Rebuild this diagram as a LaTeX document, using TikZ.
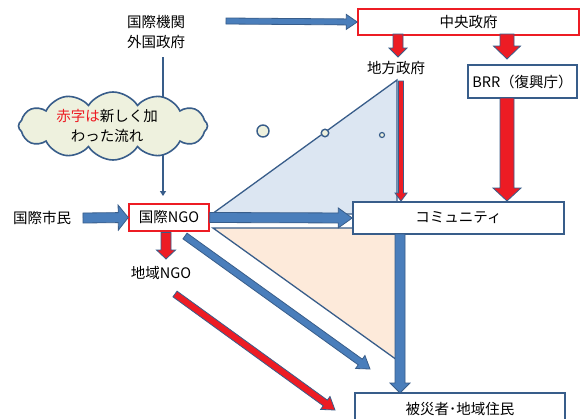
\documentclass[tikz,border=0pt]{standalone}
\usepackage{fontspec}
\setmainfont{Noto Sans CJK JP}
\usetikzlibrary{calc,shapes.symbols,arrows.meta}
\definecolor{dblue}{RGB}{56,93,138}
\definecolor{mblue}{RGB}{74,126,187}
\definecolor{ared}{RGB}{237,28,36}
\definecolor{tribl}{RGB}{220,230,242}
\definecolor{tripe}{RGB}{253,234,218}
\definecolor{cloudf}{RGB}{238,241,222}
\newcommand{\blockarr}[6]{%
  \coordinate (bA) at #2;
  \coordinate (bB) at #3;
  \coordinate (bH) at ($(bB)!#6!(bA)$);
  \filldraw[#1] ($(bA)!#4!90:(bB)$) -- ($(bH)!#4!-90:(bA)$) -- ($(bH)!#5!-90:(bA)$) -- (bB)
     -- ($(bH)!#5!90:(bA)$) -- ($(bH)!#4!90:(bA)$) -- ($(bA)!#4!-90:(bB)$) -- cycle;
}
\begin{document}
\begin{tikzpicture}[x=1pt,y=-1pt,
  every node/.style={font=\fontsize{14.5}{20}\selectfont, inner sep=0pt},
  redbox/.style={draw=ared, line width=1.5pt, fill=white},
  bluebox/.style={draw=dblue, line width=1.5pt, fill=white},
  bluearr/.style={fill=mblue, draw=dblue, line width=0.8pt, line join=miter},
  redarr/.style={fill=ared, draw=dblue, line width=0.8pt, line join=miter},
  triline/.style={draw=dblue, line width=1.3pt},
  thought/.style={circle, draw=dblue, fill=cloudf, line width=1.4pt, inner sep=0pt}]
\useasboundingbox (0,0) rectangle (581,418);
\clip (0,0) rectangle (581,418);
\fill[white] (0,0) rectangle (581,418);

% triangles
\path[triline, fill=tribl] (397,80) -- (212,214) -- (397,214) -- cycle;
\path[triline, fill=tripe] (213,228) -- (397,228) -- (397,360) -- cycle;

% text nodes and boxes
\node[align=center] (intl) at (156,32) {国際機関\\外国政府};
\node[redbox, minimum width=221pt, minimum height=26pt] (central) at (468.5,22) {中央政府};
\node (local) at (396,68) {地方政府};
\node[bluebox, minimum width=109pt, minimum height=33pt] (brr) at (522.5,81.5) {BRR（復興庁）};
\node[bluebox, minimum width=211pt, minimum height=32pt] (comm) at (458.5,218) {コミュニティ};
\node[bluebox, minimum width=210pt, minimum height=32pt] (victim) at (460,409) {被災者･地域住民};
\node[redbox, minimum width=80pt, minimum height=27pt] (ngo) at (169,217.5) {国際NGO};
\node (citizen) at (42,218) {国際市民};
\node (lngo) at (161,273) {地域NGO};

% thin arrow from international orgs to international NGO
\coordinate (thinstart) at (163,57);
\draw[dblue, line width=2pt, -{Triangle[width=6pt,length=5pt]}] (thinstart) -- (163,196);

% cloud and thought circles
\node[cloud, cloud puffs=12, cloud puff arc=115, aspect=2.9, draw=dblue, line width=1.6pt,
      fill=cloudf, minimum width=189pt, minimum height=68pt] (cloud) at (113,126) {};
\node[align=center] (cloudtxt) at (107,126) {\textcolor{ared}{赤字は}新しく加\\わった流れ};
\node[thought, minimum size=12pt] (t1) at (263,131) {};
\node[thought, minimum size=7.5pt] (t2) at (325,133) {};
\node[thought, minimum size=5pt, line width=1.2pt] (t3) at (382,135) {};

% block arrows
\blockarr{bluearr}{(226,21)}{(central.west)}{3pt}{7.5pt}{11pt}
\blockarr{bluearr}{(83,218)}{(ngo.west)}{5pt}{12.5pt}{10pt}
\blockarr{bluearr}{(ngo.east)}{(comm.west)}{5pt}{10pt}{14pt}
\blockarr{redarr}{(166,232.5)}{(166,259)}{5pt}{9.5pt}{9pt}
\blockarr{redarr}{(398,34)}{(398,57)}{5pt}{9pt}{9pt}
\blockarr{redarr}{(507,34)}{(507,59)}{7pt}{13.5pt}{13pt}
\blockarr{redarr}{(507,98)}{(507,201)}{7pt}{14pt}{13pt}
\blockarr{redarr}{(401,81)}{(401,201)}{2.5pt}{6pt}{8pt}
\blockarr{bluearr}{(400,234)}{(400,393)}{5pt}{10pt}{10pt}
\blockarr{bluearr}{(185,236)}{(370,369)}{3.5pt}{8pt}{12pt}
\blockarr{redarr}{(175,294)}{(335,410)}{3.5pt}{8pt}{12pt}
\end{tikzpicture}
\end{document}
